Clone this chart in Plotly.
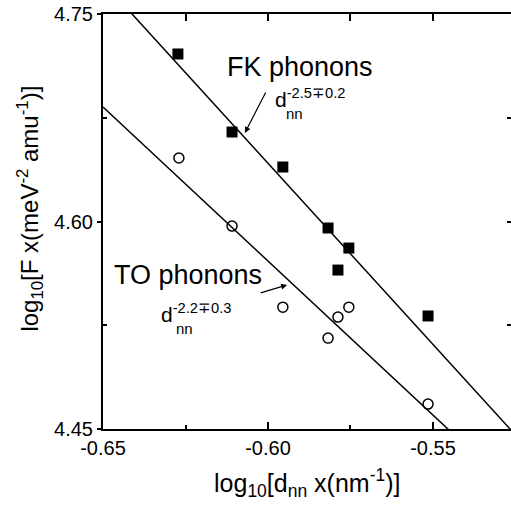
import plotly.graph_objects as go

# Measured points: log10(d_nn) and log10(F)
fk_x = [-0.6273, -0.6109, -0.5955, -0.5818, -0.5755, -0.5788, -0.5515]
fk_y = [4.7211, 4.6647, 4.6394, 4.5953, 4.5808, 4.5649, 4.5317]
to_x = [-0.6270, -0.6109, -0.5955, -0.5788, -0.5755, -0.5818, -0.5515]
to_y = [4.6459, 4.5967, 4.5381, 4.5309, 4.5381, 4.5157, 4.4680]

# Linear fits  log10(F) = intercept + slope * log10(d_nn)
fk_fit = {"slope": -2.619, "intercept": 3.0707}
to_fit = {"slope": -2.227, "intercept": 3.2352}

x_range = [-0.65, -0.52636]
y_range = [4.45, 4.75]

x_ticks = [-0.65, -0.60, -0.55]
x_tick_text = ["-0.65", "-0.60", "-0.55"]
x_minor = [-0.625, -0.575]
x_top_ticks = [-0.65, -0.625, -0.60, -0.575, -0.55]
y_ticks = [4.45, 4.60, 4.75]
y_tick_text = ["4.45", "4.60", "4.75"]
y_minor = [4.525, 4.675]
y_right_ticks = [4.525, 4.60, 4.675]

FONT = "Liberation Sans, Arial, Helvetica, sans-serif"


def fit_line(fit):
    ys = [fit["intercept"] + fit["slope"] * x for x in x_range]
    return list(x_range), ys


fig = go.Figure()

for fit in (fk_fit, to_fit):
    lx, ly = fit_line(fit)
    fig.add_trace(go.Scatter(x=lx, y=ly, mode="lines",
                             line=dict(color="black", width=1.5),
                             showlegend=False, hoverinfo="skip"))

fig.add_trace(go.Scatter(x=fk_x, y=fk_y, mode="markers", name="FK phonons",
                         marker=dict(symbol="square", size=11, color="black",
                                     line=dict(width=0)),
                         showlegend=False, cliponaxis=False))
fig.add_trace(go.Scatter(x=to_x, y=to_y, mode="markers", name="TO phonons",
                         marker=dict(symbol="circle-open", size=10, color="black",
                                     line=dict(width=1.5)),
                         showlegend=False, cliponaxis=False))

# empty trace so the top / right frame axes are drawn
fig.add_trace(go.Scatter(x=[None], y=[None], xaxis="x2", yaxis="y2",
                         showlegend=False, hoverinfo="skip"))

fig.update_layout(
    width=511, height=510,
    margin=dict(l=103, r=0, t=14, b=81),
    paper_bgcolor="white", plot_bgcolor="white",
    font=dict(family=FONT, color="black", size=20),
    xaxis=dict(range=x_range, showgrid=False, zeroline=False,
               showline=True, linecolor="black", linewidth=2,
               tickvals=x_ticks, ticktext=x_tick_text,
               ticks="inside", ticklen=7, tickwidth=1.5, tickcolor="black",
               minor=dict(tickvals=x_minor, ticks="inside", ticklen=4,
                          tickwidth=1.5, tickcolor="black"),
               tickfont=dict(size=20)),
    xaxis2=dict(range=x_range, overlaying="x", side="top", anchor="y",
                showgrid=False, zeroline=False, showline=True,
                linecolor="black", linewidth=2,
                tickvals=x_top_ticks, ticks="inside", ticklen=7, tickwidth=1.5,
                tickcolor="black", showticklabels=False),
    yaxis=dict(range=y_range, showgrid=False, zeroline=False,
               showline=True, linecolor="black", linewidth=2,
               tickvals=y_ticks, ticktext=y_tick_text,
               ticks="outside", ticklen=4, tickwidth=1.5, tickcolor="black",
               minor=dict(tickvals=y_minor, ticks="inside", ticklen=4,
                          tickwidth=1.5, tickcolor="black"),
               tickfont=dict(size=20)),
    yaxis2=dict(range=y_range, overlaying="y", side="right", anchor="x",
                showgrid=False, zeroline=False, showline=False,
                tickvals=y_right_ticks, ticks="inside", ticklen=4,
                tickwidth=1.5, tickcolor="black", showticklabels=False),
)

annotations = [
    # axis titles
    dict(text="log<sub>10</sub>[d<sub>nn</sub> x(nm<sup>-1</sup>)]",
         xref="paper", yref="paper", x=0.5, y=-0.13,
         xanchor="center", yanchor="middle", showarrow=False,
         font=dict(size=25)),
    dict(text="log<sub>10</sub>[F x(meV<sup>-2</sup> amu<sup>-1</sup>)]",
         xref="paper", yref="paper", x=-0.18, y=0.53, textangle=-90,
         xanchor="center", yanchor="middle", showarrow=False,
         font=dict(size=24)),
    # series labels
    dict(text="FK phonons", xref="x", yref="y", x=-0.5903, y=4.7117,
         xanchor="center", yanchor="middle", showarrow=False,
         font=dict(size=27)),
    dict(text="d<sup>-2.5\u22130.2</sup>", xref="x", yref="y",
         x=-0.5986, y=4.6890, xanchor="left", yanchor="middle",
         showarrow=False, font=dict(size=21)),
    dict(text="nn", xref="x", yref="y", x=-0.5950, y=4.6780,
         xanchor="left", yanchor="middle", showarrow=False,
         font=dict(size=15)),
    dict(text="TO phonons", xref="x", yref="y", x=-0.6242, y=4.5613,
         xanchor="center", yanchor="middle", showarrow=False,
         font=dict(size=27)),
    dict(text="d<sup>-2.2\u22130.3</sup>", xref="x", yref="y",
         x=-0.6330, y=4.5335, xanchor="left", yanchor="middle",
         showarrow=False, font=dict(size=21)),
    dict(text="nn", xref="x", yref="y", x=-0.6285, y=4.5223,
         xanchor="left", yanchor="middle", showarrow=False,
         font=dict(size=15)),
    # pointer arrows (1x1 box so the whole shaft is drawn)
    dict(text="", xref="x", yref="y", x=-0.6070, y=4.6640,
         ax=21, ay=-41, showarrow=True, arrowhead=2, arrowsize=1,
         arrowwidth=1.2, arrowcolor="black", font=dict(size=1),
         width=1, height=1, borderpad=0, borderwidth=0),
    dict(text="", xref="x", yref="y", x=-0.5942, y=4.5541,
         ax=-27, ay=8, showarrow=True, arrowhead=2, arrowsize=1,
         arrowwidth=1.2, arrowcolor="black", font=dict(size=1),
         width=1, height=1, borderpad=0, borderwidth=0),
]
fig.update_layout(annotations=annotations)

fig.write_html("out.html")
